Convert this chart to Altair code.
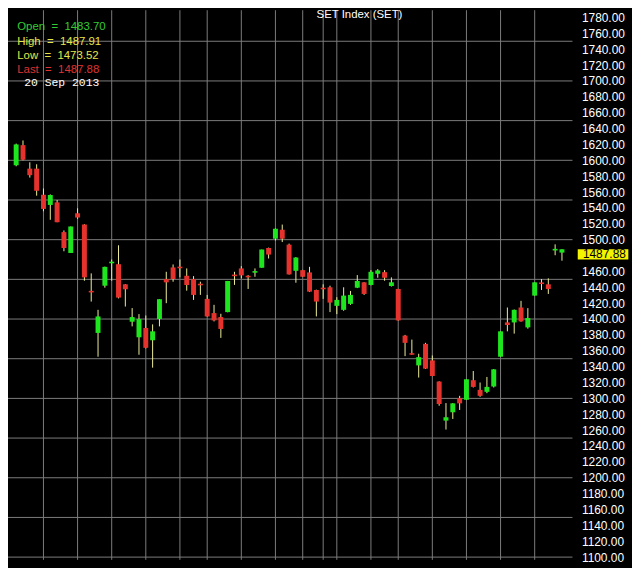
import altair as alt
import pandas as pd

# ---- data -------------------------------------------------------------
may_days = [28, 29, 30, 31]
jun_days = [3, 4, 5, 6, 7, 10, 11, 12, 13, 14, 17, 18, 19, 20, 21, 24, 25, 26, 27, 28]
jul_days = [2, 3, 4, 5, 8, 9, 10, 11, 12, 15, 16, 17, 18, 19, 23, 24, 25, 26, 29, 30, 31]
aug_days = [1, 2, 5, 6, 7, 8, 9, 13, 14, 15, 16, 19, 20, 21, 22, 23, 26, 27, 28, 29, 30]
sep_days = [2, 3, 4, 5, 6, 9, 10, 11, 12, 13, 16, 17, 18, 19, 20]

opens = [1593.75, 1619.1, 1589.5, 1589.5, 1556.6, 1543.75, 1547, 1509.5, 1483.25, 1533.25,
         1519.1, 1434.5, 1382.5, 1442, 1470.25, 1469.1, 1443.75, 1396.6, 1377, 1388.75,
         1373.25, 1400, 1450.4, 1465, 1464.5, 1454.5, 1450.4, 1443, 1425.4, 1407.5,
         1402.5, 1408.75, 1454.5, 1463.75, 1452.9, 1458.4, 1464.5, 1489.5, 1501.25, 1512.5,
         1493.75, 1460.75, 1461.6, 1458.75, 1436.6, 1437.75, 1440, 1416.6, 1411.6, 1419.1,
         1439.5, 1446.25, 1442.9, 1457, 1459.1, 1441.6, 1437.9, 1379.1, 1355.5, 1341.6,
         1368.75, 1347.9, 1321.25, 1272, 1282.5, 1300.4, 1298.25, 1322.9, 1310.75, 1308.25,
         1315, 1352.5, 1395.75, 1395.75, 1414.5, 1389.5, 1429.5, 1444.4, 1443.75, 1486.4,
         1483.70]
highs = [1621, 1625, 1597.5, 1595, 1564.5, 1557, 1550, 1511.6, 1516.6, 1539.5,
         1519.5, 1457.5, 1411.6, 1466, 1475, 1492.9, 1444, 1413.75, 1406.25, 1404.5,
         1393.25, 1425, 1459.5, 1468.75, 1475, 1463.75, 1454.1, 1447, 1430.4, 1417.9,
         1406.6, 1448, 1459.5, 1466.6, 1455.4, 1463.75, 1487.5, 1490, 1514, 1519,
         1495, 1478, 1462, 1465.75, 1437, 1443.75, 1442, 1427.5, 1440, 1435.4,
         1455.4, 1446.5, 1461.6, 1462.9, 1461.6, 1452.5, 1438, 1380, 1374.1, 1356.25,
         1370, 1354.1, 1321.5, 1294.1, 1294, 1303.25, 1324.1, 1334.5, 1320, 1327,
         1337, 1384.5, 1414.5, 1412, 1422.9, 1413.75, 1446.25, 1450.4, 1451.25, 1494.1,
         1487.91]
lows = [1592.5, 1600, 1578.25, 1555.4, 1535.75, 1525, 1522, 1485.4, 1483.25, 1526.25,
        1448.25, 1422, 1352.5, 1439.5, 1448.25, 1426, 1415.75, 1390.75, 1355, 1363,
        1338.75, 1390.75, 1420, 1447, 1452.5, 1435.75, 1424.1, 1430.4, 1403, 1397,
        1376.25, 1408.5, 1443, 1451.25, 1437.9, 1453.25, 1464.5, 1476.25, 1499, 1497,
        1456, 1445.75, 1453, 1434, 1403.25, 1425.4, 1408.75, 1406.25, 1410.4, 1417.9,
        1439, 1430.4, 1442.5, 1452, 1448.25, 1441, 1398, 1353.25, 1355, 1326.25,
        1337, 1328, 1290.75, 1260.75, 1274.1, 1285.4, 1298, 1313.75, 1302, 1306.6,
        1313.75, 1352.5, 1384.5, 1381.6, 1396.6, 1387.9, 1429.5, 1436.6, 1431.6, 1480.4,
        1473.52]
closes = [1620, 1600.75, 1581.25, 1561.6, 1538.75, 1556.25, 1522, 1489.5, 1516.6, 1527.9,
          1452.5, 1433.5, 1403.25, 1465.75, 1471, 1427, 1437.5, 1402.5, 1400, 1363.75,
          1384.5, 1425, 1446.25, 1450.4, 1464, 1442.9, 1430.4, 1442.5, 1403.25, 1398.25,
          1387.5, 1447.9, 1454, 1455, 1452.5, 1459, 1487.5, 1481.25, 1513.75, 1501.25,
          1456.25, 1477.5, 1453.25, 1434.5, 1422, 1437.5, 1420.75, 1424.1, 1429.5, 1430.4,
          1447.9, 1431.6, 1459.5, 1461.25, 1452, 1446.25, 1398.25, 1370, 1355, 1352,
          1337.5, 1328.25, 1292.9, 1276.25, 1293.75, 1293.75, 1324.1, 1314.5, 1303.25, 1314.5,
          1336.6, 1384.5, 1392.5, 1411.6, 1397, 1401.25, 1446.25, 1444.1, 1437.9, 1488.1,
          1487.88]

price_labels = list(range(1100, 1781, 20))
price_grid = list(range(1100, 1751, 50))

title_text = "SET Index (SET)"
last_date_text = "20 Sep 2013"

# ---- build tables -----------------------------------------------------
dates = ([f"2013-05-{d:02d}" for d in may_days] + [f"2013-06-{d:02d}" for d in jun_days]
         + [f"2013-07-{d:02d}" for d in jul_days] + [f"2013-08-{d:02d}" for d in aug_days]
         + [f"2013-09-{d:02d}" for d in sep_days])

df = pd.DataFrame({"i": range(len(dates)), "date": dates, "o": opens, "h": highs,
                   "l": lows, "c": closes})
df["dir"] = ["up" if c >= o else "down" for o, c in zip(opens, closes)]
df["blo"] = df[["o", "c"]].min(axis=1)
df["bhi"] = df[["o", "c"]].max(axis=1)
df["bhi"] = df[["bhi"]].assign(m=df["blo"] + 2.0).max(axis=1)

dts = pd.to_datetime(df["date"])
vgrid = [i for i in range(1, len(dts))
         if dts[i].isocalendar().week != dts[i - 1].isocalendar().week
         or dts[i].month != dts[i - 1].month]

last_close = closes[-1]
BOX_UNITS = 13  # height of the last-price tag, in price units
# the last-price tag hides the axis label it sits on
axis_values = [v for v in price_labels if not (last_close - BOX_UNITS - 6 <= v <= last_close)]

W, H = 569, 554
xsc = alt.Scale(domain=[-0.4714, 80.8143], nice=False, zero=False)
ysc = alt.Scale(domain=[1096.6, 1789.1], nice=False, zero=False)

FONT = "Liberation Sans"
NB = "\u00a0"

yaxis = alt.Axis(orient="right", values=axis_values, format=".2f", grid=False,
                 domain=False, ticks=False, labelColor="#ffffff", labelFont=FONT,
                 labelFontSize=12, labelPadding=9, labelOverlap=False,
                 labelFlush=False, labelBound=False, title=None)

hgrid = alt.Chart(pd.DataFrame({"v": price_grid})).mark_rule(
    color="#7c7c7c", strokeWidth=1).encode(
    y=alt.Y("v:Q", scale=ysc, axis=yaxis),
    x=alt.value(0), x2=alt.value(W))

vg = alt.Chart(pd.DataFrame({"g": vgrid})).mark_rule(
    color="#7c7c7c", strokeWidth=1).encode(
    x=alt.X("g:Q", scale=xsc, axis=None), y=alt.value(0), y2=alt.value(H))

color_scale = alt.Scale(domain=["up", "down"], range=["#1ee61e", "#e5322d"])

wicks = alt.Chart(df).mark_rule(color="#eeee99", strokeWidth=1).encode(
    x=alt.X("i:Q", scale=xsc, axis=None),
    y=alt.Y("l:Q", scale=ysc, axis=yaxis), y2="h:Q")

bodies = alt.Chart(df).mark_bar(size=5, orient="vertical").encode(
    x=alt.X("i:Q", scale=xsc, axis=None),
    y=alt.Y("blo:Q", scale=ysc, axis=yaxis), y2="bhi:Q",
    color=alt.Color("dir:N", scale=color_scale, legend=None))

last = df.iloc[[-1]][["c"]].copy()
last_box = alt.Chart(last).transform_calculate(b=f"datum.c - {BOX_UNITS}").mark_rect(
    color="#f4f400").encode(
    x=alt.value(574.3), x2=alt.value(625.3),
    y=alt.Y("c:Q", scale=ysc, axis=yaxis), y2="b:Q")
last_txt = alt.Chart(last).transform_calculate(
    m=f"datum.c - {BOX_UNITS / 2}", t="format(datum.c, '.2f')").mark_text(
    align="left", baseline="middle", font=FONT, fontSize=12, color="#000000").encode(
    x=alt.value(579.5), y=alt.Y("m:Q", scale=ysc, axis=yaxis), text="t:N")

one = pd.DataFrame({"k": [0]})


def label(text, x, y, color, font=FONT, size=11.5, align="left"):
    return alt.Chart(one).mark_text(text=text, align=align, baseline="middle",
                                    font=font, fontSize=size, color=color).encode(
        x=alt.value(x), y=alt.value(y))


o, h, l, c = opens[-1], highs[-1], lows[-1], closes[-1]
sep = NB * 2 + "=" + NB * 2
texts = [
    label(title_text, 311, 4.5, "#ffffff"),
    label(f"Open{sep}{o:.2f}", 9.3, 17, "#33cc33"),
    label(f"High{sep}{h:.2f}", 9.3, 32, "#e6e64a"),
    label(f"Low{sep}{l:.2f}", 9.3, 46, "#e6e64a"),
    label(f"Last{sep}{c:.2f}", 9.3, 60.3, "#dd3333"),
    label(last_date_text, 16.3, 73.7, "#ffffff", font="Liberation Mono", size=11.5),
]

chart = alt.layer(hgrid, vg, wicks, bodies, last_box, last_txt, *texts).properties(
    width=W, height=H, background="#000000",
    autosize=alt.AutoSizeParams(type="none"),
    padding={"left": 0, "top": 0, "right": 60, "bottom": 6},
).configure_view(stroke=None).configure_axis(labelOverlap=False)

chart.save("out.html", embed_options={"renderer": "svg", "actions": False})
